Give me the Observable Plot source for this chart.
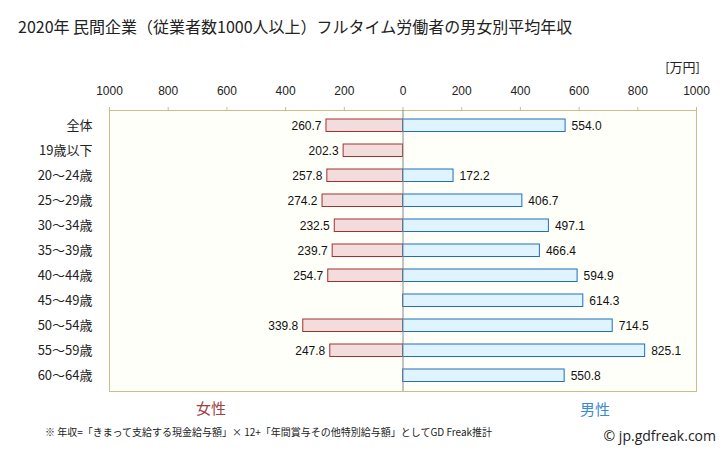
<!DOCTYPE html>
<html><head><meta charset="utf-8">
<script src="https://cdn.jsdelivr.net/npm/d3@7"></script>
<script src="https://cdn.jsdelivr.net/npm/@observablehq/plot@0.6"></script>
<style>
body{margin:0;background:#fff;font-family:"Liberation Sans","Noto Sans CJK JP",sans-serif;}
#wrap{position:relative;width:728px;height:451px;overflow:hidden;}
.t{position:absolute;white-space:nowrap;color:#222;}
</style></head><body>
<div id="wrap">
<div class="t" style="left:18px;top:14px;font-size:16px;font-family:'Noto Sans CJK JP',sans-serif;">2020年 民間企業（従業者数1000人以上）フルタイム労働者の男女別平均年収</div>
<div class="t" style="right:28px;top:57px;font-size:13px;font-family:'Noto Sans CJK JP',sans-serif;">[万円]</div>
<div class="t" style="left:196px;top:397px;font-size:15px;color:#a0403f;font-family:'Noto Sans CJK JP',sans-serif;">女性</div>
<div class="t" style="left:580px;top:398px;font-size:15px;color:#3a8bd0;font-family:'Noto Sans CJK JP',sans-serif;">男性</div>
<div class="t" style="left:45px;top:424px;font-size:10px;font-family:'Noto Sans CJK JP',sans-serif;">※ 年収=「きまって支給する現金給与額」× 12+「年間賞与その他特別給与額」としてGD Freak推計</div>
<div class="t" style="right:12px;top:426px;font-size:14px;font-family:'Open Sans',sans-serif;">© jp.gdfreak.com</div>
</div>
<script>
const categories = ["全体","19歳以下","20～24歳","25～29歳","30～34歳","35～39歳","40～44歳","45～49歳","50～54歳","55～59歳","60～64歳"];
const female = [260.7, 202.3, 257.8, 274.2, 232.5, 239.7, 254.7, null, 339.8, 247.8, null];
const male = [554.0, null, 172.2, 406.7, 497.1, 466.4, 594.9, 614.3, 714.5, 825.1, 550.8];
const tickValues = [-1000,-800,-600,-400,-200,0,200,400,600,800,1000];

const fData = categories.map((c,i)=>({cat:c, v:female[i]})).filter(d=>d.v!=null);
const mData = categories.map((c,i)=>({cat:c, v:male[i]})).filter(d=>d.v!=null);

const chart = Plot.plot({
  width: 728, height: 451,
  marginTop: 110, marginBottom: 60, marginLeft: 109, marginRight: 32,
  style: {fontFamily: "'Liberation Sans','Noto Sans CJK JP',sans-serif", fontSize: "12px", background: "transparent"},
  x: {domain: [-1000, 1000]},
  y: {domain: categories, padding: 0},
  marks: [
    Plot.frame({fill: "#fffffa", stroke: "#c9bd8e"}),
    Plot.axisX({anchor: "top", ticks: tickValues, tickFormat: d => String(Math.abs(d)), tickSize: 4, tickPadding: 12, stroke: "#c9bd8e", fill: "#222", fontSize: 12, label: null}),
    Plot.axisY({anchor: "left", tickSize: 0, tickPadding: 17, fontSize: 13, fill: "#222", label: null, fontFamily: "'Noto Sans CJK JP',sans-serif"}),
    Plot.barX(fData, {y: "cat", x1: 0, x2: d => -d.v, fill: "#f2dcdc", stroke: "#a3302f", strokeWidth: 1, insetTop: 6, insetBottom: 6.5}),
    Plot.barX(mData, {y: "cat", x1: 0, x2: d => d.v, fill: "#dff4fe", stroke: "#1f6fbd", strokeWidth: 1, insetTop: 6, insetBottom: 6.5}),
    Plot.ruleX([0], {stroke: "#888"}),
    Plot.text(fData, {y: "cat", x: d => -d.v, text: d => d.v.toFixed(1), textAnchor: "end", dx: -5, fill: "#111", fontSize: 12}),
    Plot.text(mData, {y: "cat", x: d => d.v, text: d => d.v.toFixed(1), textAnchor: "start", dx: 6, fill: "#111", fontSize: 12})
  ]
});
chart.style.position = "absolute";
chart.style.left = "0px";
chart.style.top = "0px";
document.getElementById("wrap").prepend(chart);
</script>
</body></html>
